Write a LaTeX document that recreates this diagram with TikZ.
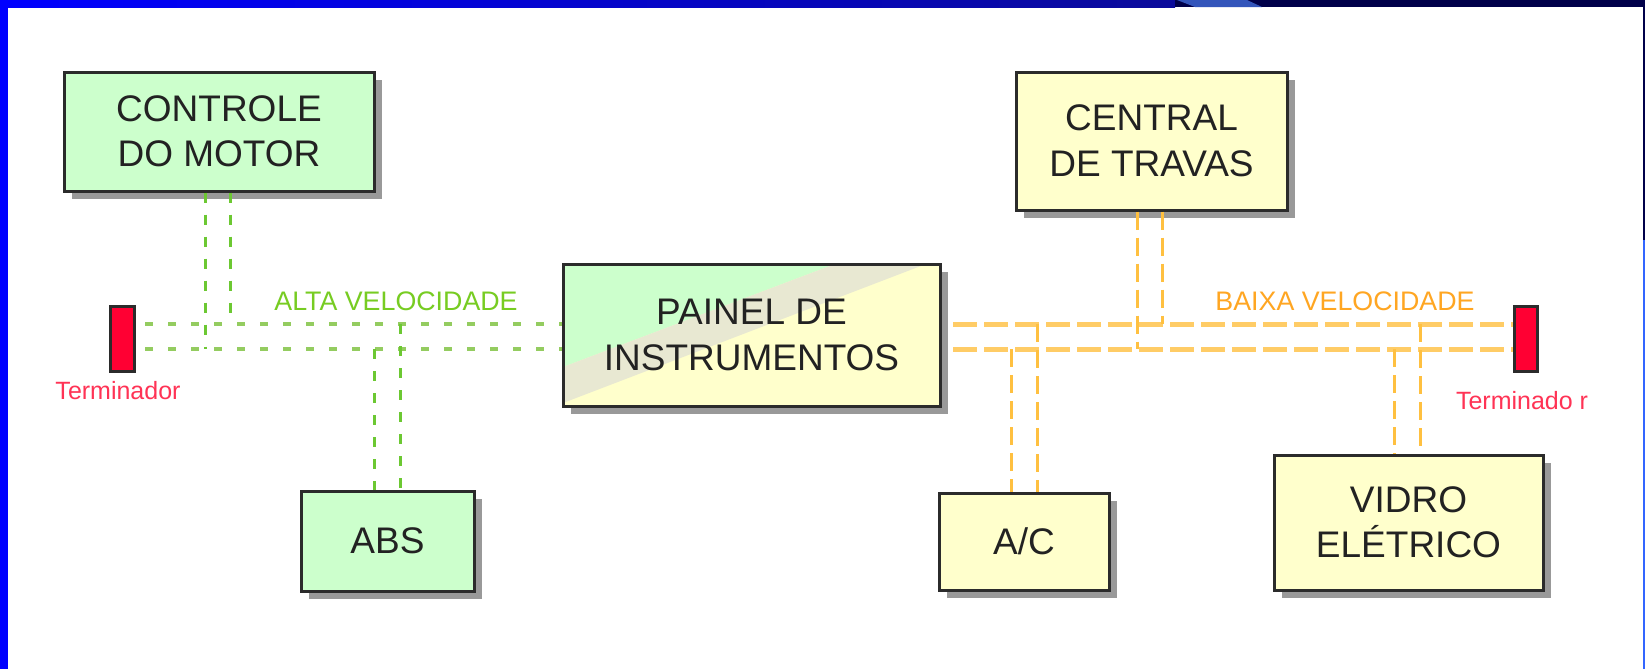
\documentclass[tikz,border=0pt]{standalone}
\usepackage{fontspec}
\setmainfont{Liberation Sans}
\usetikzlibrary{shadows}
\definecolor{cgreen}{HTML}{CCFFCC}
\definecolor{cyellow}{HTML}{FFFFCC}
\definecolor{cbeige}{HTML}{E8E8D2}
\definecolor{cborder}{HTML}{2B2B2B}
\definecolor{cshadow}{HTML}{999999}
\definecolor{ctext}{HTML}{222222}
\definecolor{cred}{HTML}{FF0033}
\definecolor{cterm}{HTML}{FF3355}
\definecolor{gbusc}{HTML}{94CC60}
\definecolor{gvertc}{HTML}{6CC832}
\definecolor{obusc}{HTML}{FFCC66}
\definecolor{overtc}{HTML}{FFC040}
\definecolor{galt}{HTML}{77CC22}
\definecolor{obaixa}{HTML}{FFA622}
\definecolor{topblue}{HTML}{0000FF}
\definecolor{topmid}{HTML}{0A0A9A}
\definecolor{topdark}{HTML}{00004A}
\definecolor{streak}{HTML}{3355BB}
\definecolor{rightblue}{HTML}{3366FF}
\newcommand\boxfont{\fontsize{18.5}{22.75}\selectfont}
\newcommand\lblfont{\fontsize{12.5}{14}\selectfont}
\newcommand\busfont{\fontsize{13.4}{15}\selectfont}
\tikzset{
  box/.style={draw=cborder, line width=1.5pt, inner sep=0pt, align=center,
    font=\boxfont, text=ctext,
    general shadow={fill=cshadow, shadow xshift=4pt, shadow yshift=-4pt}},
  gbox/.style={box, fill=cgreen},
  ybox/.style={box, fill=cyellow},
  term/.style={draw=cborder, line width=1.5pt, fill=cred, inner sep=0pt},
  gbus/.style={draw=gbusc, line width=2pt, dash pattern=on 4pt off 7.5pt},
  obus/.style={draw=obusc, line width=2.5pt, dash pattern=on 12pt off 3.5pt},
  gvert/.style={draw=gvertc, line width=1.5pt, dash pattern=on 5pt off 6pt},
  overt/.style={draw=overtc, line width=1.5pt, dash pattern=on 9pt off 4pt},
  lbl/.style={font=\lblfont, inner sep=0pt},
  buslbl/.style={font=\busfont, inner sep=0pt}
}
\begin{document}
\begin{tikzpicture}[x=0.5pt,y=-0.5pt]
\useasboundingbox (0,0) rectangle (1645,669);
\fill[white] (0,0) rectangle (1645,669);
% frame
\shade[left color=topblue, right color=topmid] (0,0) rectangle (1175,7);
\fill[topdark] (1175,0) rectangle (1645,7);
\fill[streak] (1177,0) -- (1247,0) -- (1262,7) -- (1195,7) -- cycle;
\fill[topblue] (0,0) rectangle (8,669);
\fill[topdark] (1643,7) rectangle (1645,240);
\fill[rightblue] (1643,240) rectangle (1645,669);

% boxes
\node[gbox, minimum width=155pt, minimum height=59.5pt] (ctrl) at (219,131.5) {CONTROLE\\DO MOTOR};
\node[gbox, minimum width=86.5pt, minimum height=50pt] (abs) at (387.5,541) {ABS};
\node[ybox, minimum width=188.5pt, minimum height=71pt,
  path picture={
    \fill[cgreen] (path picture bounding box.north west) -- ++(272,0) -- ++(-272,103) -- cycle;
    \fill[cbeige] (path picture bounding box.north west) ++(272,0) -- ++(91,0) -- ++(-363,139) -- ++(0,-36) -- cycle;
  }] (painel) at (751.5,335) {PAINEL DE\\INSTRUMENTOS};
\node[ybox, minimum width=135.5pt, minimum height=69pt] (central) at (1151.5,141) {CENTRAL\\DE TRAVAS};
\node[ybox, minimum width=85pt, minimum height=48.5pt] (ac) at (1024,541.5) {A/C};
\node[ybox, minimum width=134.5pt, minimum height=67.5pt] (vidro) at (1408.5,522.5) {VIDRO\\ELÉTRICO};
\node[term, minimum width=12pt, minimum height=32.5pt] (termL) at (122,338.5) {};
\node[term, minimum width=11.5pt, minimum height=32.5pt] (termR) at (1525.5,338.5) {};

% labels
\node[buslbl, text=galt] (alta) at (396,301) {ALTA VELOCIDADE};
\node[buslbl, text=obaixa] (baixa) at (1345,301) {BAIXA VELOCIDADE};
\node[lbl, text=cterm] (tl) at (118,391) {Terminador};
\node[lbl, text=cterm] (tr) at (1522,401) {Terminado r};

% bus start points
\coordinate (gU) at (145,324);
\coordinate (gL) at (145,349);
\coordinate (oU) at (953,324);
\coordinate (oL) at (953,349);
% junctions
\coordinate (j1) at (205,349);
\coordinate (j2) at (230,324);
\coordinate (j3) at (374,349);
\coordinate (j4) at (400,324);
\coordinate (j5) at (1137,349);
\coordinate (j6) at (1162,324);
\coordinate (j7) at (1011,349);
\coordinate (j8) at (1037,324);
\coordinate (j9) at (1394,349);
\coordinate (j10) at (1420,324);

% buses
\draw[gbus] (gU) -- (gU -| painel.west);
\draw[gbus] (gL) -- (gL -| painel.west);
\draw[obus] (oU) -- (oU -| termR.west);
\draw[obus] (oL) -- (oL -| termR.west);

% drops
\draw[gvert] (ctrl.south -| j1) -- (j1);
\draw[gvert] (ctrl.south -| j2) -- (j2);
\draw[gvert] (j3) -- (abs.north -| j3);
\draw[gvert] (j4) -- (abs.north -| j4);
\draw[overt] (central.south -| j5) -- (j5);
\draw[overt] (central.south -| j6) -- (j6);
\draw[overt] (j7) -- (ac.north -| j7);
\draw[overt] (j8) -- (ac.north -| j8);
\draw[overt] (j9) -- (vidro.north -| j9);
\draw[overt] (j10) -- (vidro.north -| j10);
\end{tikzpicture}
\end{document}
